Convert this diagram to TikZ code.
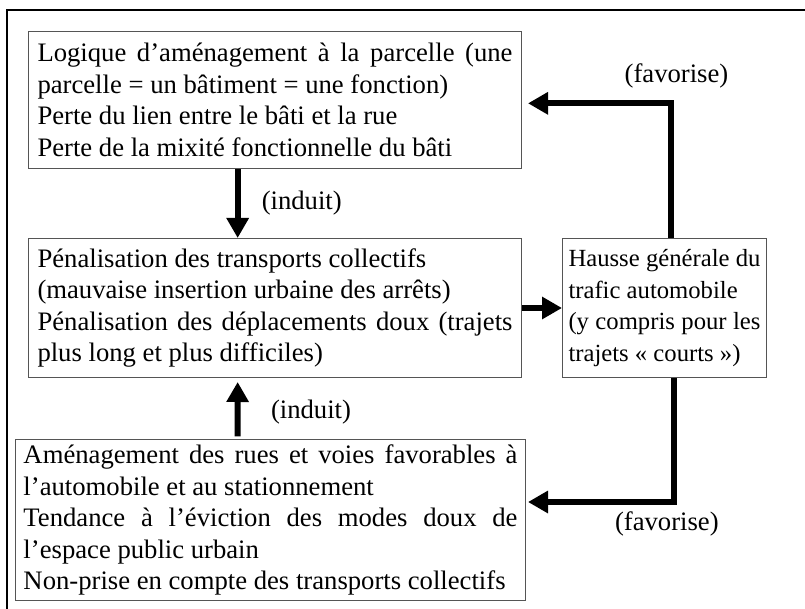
\documentclass[tikz,border=0pt]{standalone}
\usepackage{fontspec}
\setmainfont{Liberation Serif}
\usepackage{xcolor}
\usepackage{tikz}
\usetikzlibrary{calc,arrows.meta}
\definecolor{cadregris}{RGB}{85,85,85}
\tikzset{
	cadre/.style={draw=cadregris,line width=0.75pt,rectangle,anchor=north west,align=justify,inner ysep=2pt,font=\fontsize{20pt}{23.6pt}\selectfont},
	fleche/.style={line width=4.5pt,-{Triangle[length=15pt,width=16pt]}},
	etiq/.style={font=\fontsize{20pt}{23.6pt}\selectfont}
}

\begin{document}
\begin{tikzpicture}[x=0.75pt,y=-0.75pt]
							\useasboundingbox (0,0) rectangle (805,609);
							\draw[line width=1.5pt] (7,609) -- (7,10) -- (805,10);

							\node (logique) at (28,31) [cadre,inner xsep=6.75pt,text width=356.25pt,minimum height=102.75pt] {Logique d’aménagement à la parcelle (une\linebreak parcelle = un bâtiment = une fonction)\\Perte du lien entre le bâti et la rue\\Perte de la mixité fonctionnelle du bâti};
							\node (penal) at (28,238) [cadre,inner xsep=6.75pt,text width=356.25pt,minimum height=104.25pt] {Pénalisation des transports collectifs\\(mauvaise insertion urbaine des arrêts)\\Pénalisation des déplacements doux (trajets\linebreak plus long et plus difficiles)};
							\node (hausse) at (562,238) [cadre,font=\fontsize{18.5pt}{23.6pt}\selectfont,inner xsep=4.5pt,text width=144pt,minimum height=104.25pt] {Hausse générale du\linebreak trafic automobile\\(y compris pour les\linebreak trajets «~courts~»)};
							\node (amenag) at (15,439) [cadre,inner xsep=6pt,text width=370.5pt,minimum height=120.75pt] {Aménagement des rues et voies favorables à\linebreak l’automobile et au stationnement\\Tendance à l’éviction des modes doux de\linebreak l’espace public urbain\\Non-prise en compte des transports collectifs};

							\draw[fleche] ([xshift=-28pt]logique.south) -- ([xshift=-28pt]penal.north) node[midway,right=12.5pt,etiq] {(induit)};
							\draw[fleche] ([xshift=-24.75pt,yshift=2pt]amenag.north) -- ([xshift=-28pt,yshift=-3pt]penal.south) node[midway,right=19.5pt,yshift=-2pt,etiq] {(induit)};
							\draw[fleche] (penal.east) -- (hausse.west);
							\draw[fleche] ([xshift=4.5pt]hausse.north) |- ([xshift=4.5pt,yshift=-2.5pt]logique.east) node[pos=0.5,above=6pt,xshift=4.5pt,etiq] {(favorise)};
							\draw[fleche] ([xshift=6.75pt]hausse.south) |- ([xshift=1.5pt,yshift=13.5pt]amenag.east) node[pos=0.5,below=1.5pt,xshift=-5pt,etiq] {(favorise)};

						\end{tikzpicture}
\end{document}
